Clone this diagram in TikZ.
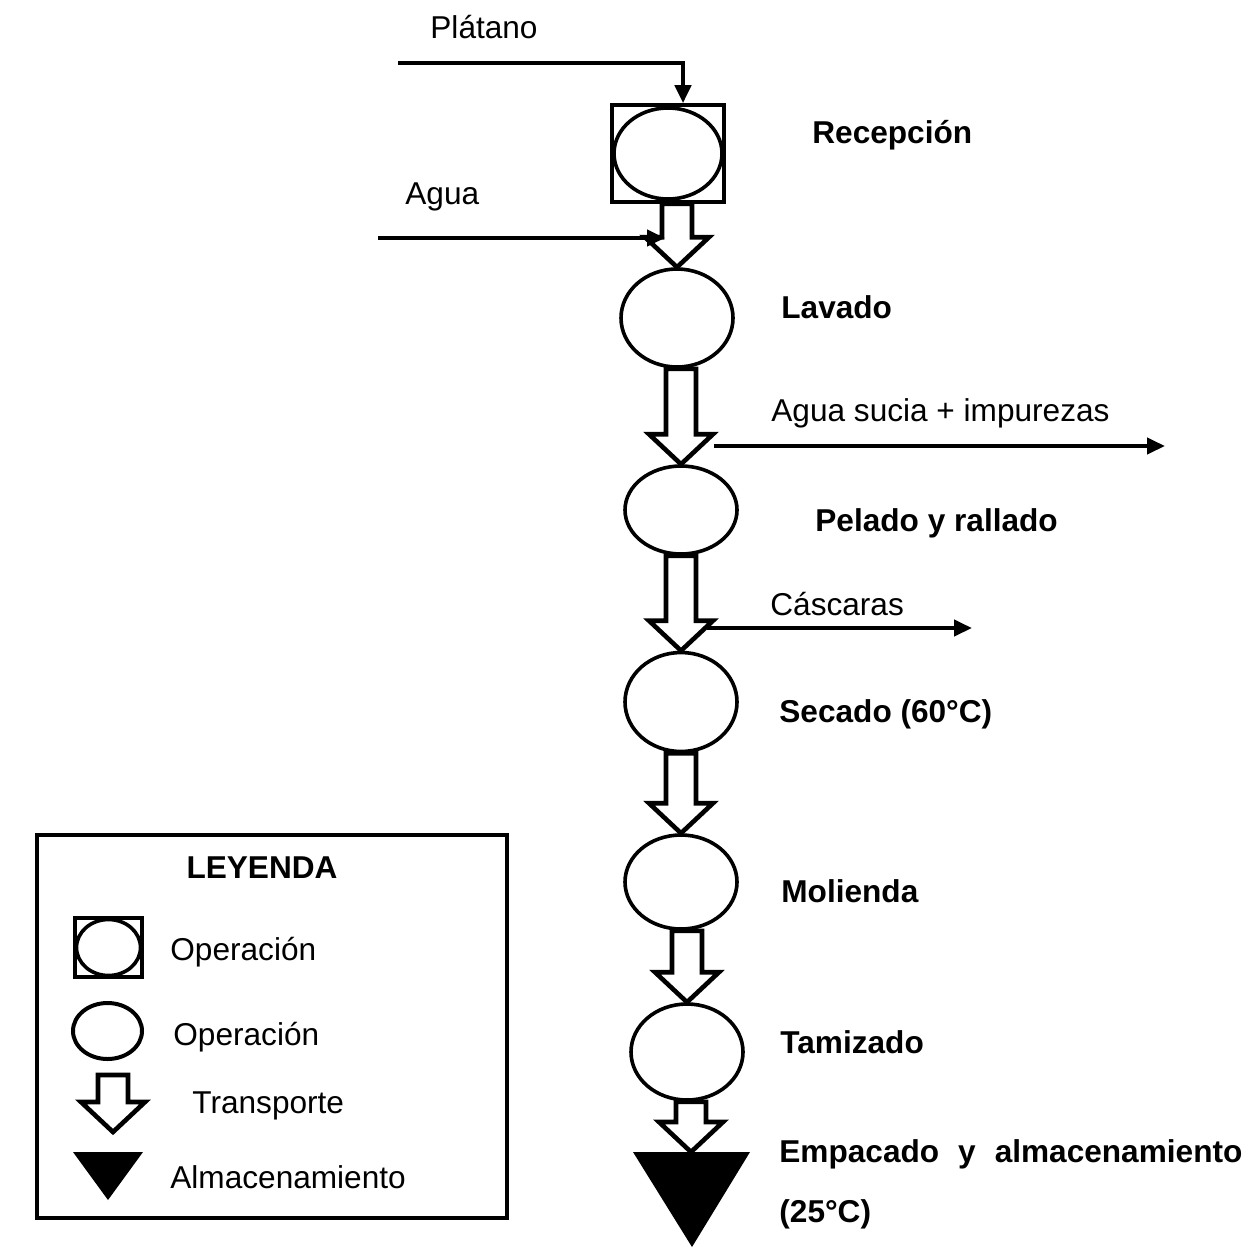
\documentclass[tikz,border=0pt]{standalone}
\usepackage{fontspec}
\setmainfont{Liberation Sans}
\usetikzlibrary{positioning,arrows.meta,calc,shapes.geometric}

\tikzset{
  opera/.style={draw, ellipse, line width=1.8pt, minimum width=56pt, minimum height=48pt, inner sep=0pt},
  caja/.style={draw, rectangle, line width=1.8pt, inner sep=0pt},
  transp/.style={draw, line width=2.3pt, line join=miter},
  flujo/.style={line width=2.1pt, ->},
  lbl/.style={anchor=base west, inner sep=0pt, font=\fontsize{15.8}{19}\selectfont},
  etapa/.style={lbl, font=\fontsize{15.8}{19}\selectfont\bfseries},
}
% flecha de transporte (hueca) entre dos puntos
\newcommand{\transporte}[2]{%
  \draw[transp] let \p1=(#1), \p2=(#2) in
    (\x2-7.5pt,\y1) -- (\x2-7.5pt,\y2+15pt) -- (\x2-16pt,\y2+15pt) -- (\x2,\y2)
    -- (\x2+16pt,\y2+15pt) -- (\x2+7.5pt,\y2+15pt) -- (\x2+7.5pt,\y1) -- cycle;}

\begin{document}
\begin{tikzpicture}[x=0.5pt, y=-0.5pt, >={Triangle[length=9pt,width=8pt]}]
\useasboundingbox (0,0) rectangle (1251,1247);

% proceso
\node[caja, minimum width=56pt, minimum height=48.5pt] (recep) at (668,153.5) {};
\node[opera, minimum width=54pt, minimum height=45.5pt] (recepE) at (recep) {};
\node[opera, minimum height=49pt] (lavado) at (677,318) {};
\node[opera, minimum height=44pt] (pelado) at (681,510) {};
\node[opera, minimum height=49.5pt] (secado) at (681,702) {};
\node[opera, minimum height=47pt] (molienda) at (681,882) {};
\node[opera] (tamiz) at (687,1052) {};
\coordinate (alm) at (691,1152);
\fill (alm) ++(-58,0) -- ++(117,0) -- (692,1247) -- cycle;

\transporte{recep.south}{lavado.north}
\transporte{lavado.south}{pelado.north}
\transporte{pelado.south}{secado.north}
\transporte{secado.south}{molienda.north}
\transporte{molienda.south}{tamiz.north}
\transporte{tamiz.south}{alm}

% entradas y salidas
\coordinate (platIni) at (398,63);
\draw[flujo] (platIni) -| ($(recep.north)+(15,0)$);
\coordinate (aguaIni) at (378,238);
\coordinate (aguaFin) at (665,238);
\draw[flujo] (aguaIni) -- (aguaFin);
\coordinate (suciaIni) at (714,446);
\coordinate (suciaFin) at (1165,446);
\draw[flujo] (suciaIni) -- (suciaFin);
\coordinate (cascIni) at (707,628);
\coordinate (cascFin) at (972,628);
\draw[flujo] (cascIni) -- (cascFin);

\node[lbl] (platano) at (430,39) {Plátano};
\node[lbl] (agua) at (405,204) {Agua};
\node[lbl] (sucia) at (771,421) {Agua sucia + impurezas};
\node[lbl] (cascaras) at (770,615) {Cáscaras};

\node[etapa] (tRecep) at (812,143) {Recepción};
\node[etapa] (tLavado) at (781,318) {Lavado};
\node[etapa] (tPelado) at (815,531) {Pelado y rallado};
\node[etapa] (tSecado) at (779,722) {Secado (60°C)};
\node[etapa] (tMolienda) at (781,902) {Molienda};
\node[etapa] (tTamiz) at (780,1053) {Tamizado};
\node[etapa] (tEmpaca) at (779,1162) {\makebox[231.5pt][s]{Empacado y almacenamiento}};
\node[etapa] (tTemp) at (779,1222) {(25°C)};

% leyenda
\node[draw, line width=2pt, minimum width=235pt, minimum height=191.5pt, inner sep=0pt] (leyenda) at (272,1026.5) {};
\node[etapa, anchor=base] (tLey) at (262,878) {LEYENDA};
\node[caja, line width=2.3pt, minimum width=33.5pt, minimum height=29.5pt] (leyCaja) at (108.5,947.5) {};
\node[opera, minimum width=32pt, minimum height=28pt] (leyCajaE) at (leyCaja) {};
\node[lbl] (tOp1) at (170,960) {Operación};
\node[opera, line width=2pt, minimum width=34.5pt, minimum height=28pt] (leyOpera) at (107.5,1031) {};
\node[lbl] (tOp2) at (173,1045) {Operación};
\coordinate (leyT1) at (114,1075);
\coordinate (leyT2) at (113,1132);
\transporte{leyT1}{leyT2}
\node[lbl] (tTransp) at (192,1113) {Transporte};
\coordinate (leyAlm) at (108,1152);
\fill (leyAlm) ++(-35,0) -- ++(70,0) -- (108,1200) -- cycle;
\node[lbl] (tAlm) at (170,1188) {Almacenamiento};
\end{tikzpicture}
\end{document}
